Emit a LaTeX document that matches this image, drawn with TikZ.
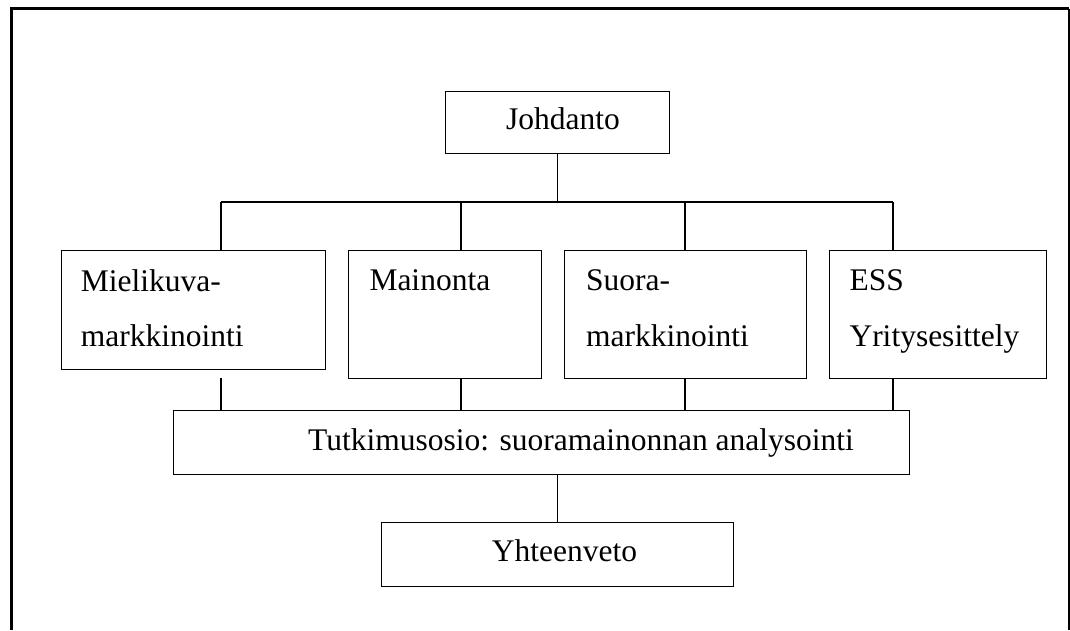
\documentclass[tikz,border=0pt]{standalone}
\usepackage{fontspec}
\setmainfont{Liberation Serif}
\begin{document}
\begin{tikzpicture}[x=1pt,y=-1pt,
  box/.style={draw, line width=1.1pt, inner sep=0pt, anchor=north west},
  txt/.style={inner sep=0pt, anchor=base west, font=\fontsize{31.5}{38}\selectfont},
  conn/.style={line width=1.1pt}]
\useasboundingbox (0,0) rectangle (1070,630);
% frame
\draw[line width=2.6pt] (11.5,630) -- (11.5,8.5) -- (1068.5,8.5);
\draw[line width=1.6pt] (1068.8,8.5) -- (1068.8,630);
% boxes
\node[box, minimum width=224pt, minimum height=62pt] (j) at (445,91) {};
\node[box, minimum width=264.3pt, minimum height=119pt] (m1) at (60.7,250) {};
\node[box, minimum width=193pt, minimum height=128pt] (m2) at (348,250) {};
\node[box, minimum width=242pt, minimum height=128pt] (m3) at (564,250) {};
\node[box, minimum width=217pt, minimum height=128pt] (m4) at (829,250) {};
\node[box, minimum width=736.3pt, minimum height=64pt] (tk) at (172.7,410) {};
\node[box, minimum width=352pt, minimum height=64pt] (yv) at (380.7,522) {};
% texts
\node[txt] (tj) at (506,129) {Johdanto};
\node[txt] (t1a) at (80.7,291) {Mielikuva-};
\node[txt] (t1b) at (80.7,346.7) {markkinointi};
\node[txt] (t2) at (369.3,290.7) {Mainonta};
\node[txt] (t3a) at (586,290) {Suora-};
\node[txt] (t3b) at (586,346) {markkinointi};
\node[txt] (t4a) at (849.3,290) {ESS};
\node[txt] (t4b) at (849.3,346) {Yritysesittely};
\node[txt] (ttk) at (308,450) {Tutkimusosio: suoramainonnan analysointi};
\node[txt] (tyv) at (491.7,561.7) {Yhteenveto};
% bus coordinates
\coordinate (b1) at (221,202);
\coordinate (b2) at (461,202);
\coordinate (b3) at (685,202);
\coordinate (b4) at (893,202);
\coordinate (c1) at (221,378);
% connectors
\draw[conn] (j.south) -- (j.south |- b1);
\draw[conn] (b1) -- (b4);
\draw[conn] (b1) -- (b1 |- m1.north);
\draw[conn] (b2) -- (b2 |- m2.north);
\draw[conn] (b3) -- (b3 |- m3.north);
\draw[conn] (b4) -- (b4 |- m4.north);
\draw[conn] (c1) -- (c1 |- tk.north);
\draw[conn] (b2 |- m2.south) -- (b2 |- tk.north);
\draw[conn] (b3 |- m3.south) -- (b3 |- tk.north);
\draw[conn] (b4 |- m4.south) -- (b4 |- tk.north);
\draw[conn] (tk.south -| yv.north) -- (yv.north);
\end{tikzpicture}
\end{document}
